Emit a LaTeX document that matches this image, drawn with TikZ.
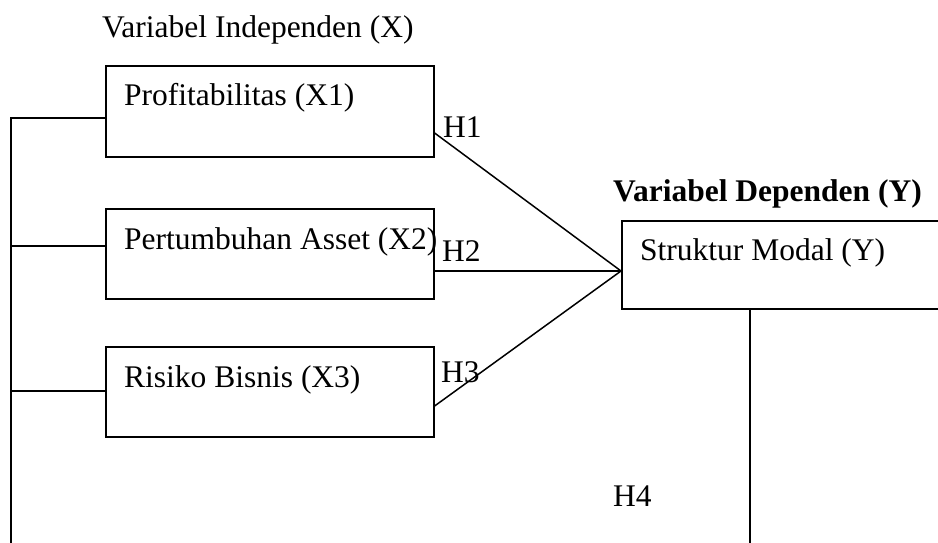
\documentclass[tikz,border=0pt]{standalone}
\usepackage{fontspec}
\setmainfont{Liberation Serif}
\usetikzlibrary{calc}
\begin{document}
\begin{tikzpicture}[x=1pt,y=-1pt,
  box/.style={draw, line width=1.6pt, inner sep=0pt, anchor=north west},
  txt/.style={anchor=base west, inner sep=0pt, font=\fontsize{31.5}{36}\selectfont},
  btxt/.style={txt, font=\fontsize{31.5}{36}\selectfont\bfseries},
  conn/.style={line width=1.5pt}]
\useasboundingbox (0,0) rectangle (938,543);

% boxes
\node[box, minimum width=328pt, minimum height=91pt] (x1) at (105,65) {};
\node[box, minimum width=328pt, minimum height=90pt] (x2) at (105,208) {};
\node[box, minimum width=328pt, minimum height=90pt] (x3) at (105,346) {};
\node[box, minimum width=330pt, minimum height=88pt] (y) at (621,220) {};

% texts
\node[txt] (tind) at (102,38) {Variabel Independen (X)};
\node[btxt] (tdep) at (613,201) {Variabel Dependen (Y)};
\node[txt] (t1) at (124,106) {Profitabilitas (X1)};
\node[txt] (t2) at (124,249) {Pertumbuhan Asset (X2)};
\node[txt] (t3) at (124,387) {Risiko Bisnis (X3)};
\node[txt] (ty) at (640,260) {Struktur Modal (Y)};
\node[txt] (h1) at (443,138) {H1};
\node[txt] (h2) at (442,261) {H2};
\node[txt] (h3) at (441,382) {H3};
\node[txt] (h4) at (613,506) {H4};

% coordinates
\coordinate (spine) at (11,546);
\coordinate (l1) at ($(x1.north west)+(0,53)$);
\coordinate (l2) at ($(x2.north west)+(0,38)$);
\coordinate (l3) at ($(x3.north west)+(0,45)$);
\coordinate (m) at ($(y.north west)+(0,51)$);
\coordinate (r1) at ($(x1.north east)+(0,68)$);
\coordinate (r2) at ($(x2.north east)+(0,63)$);
\coordinate (r3) at ($(x3.north east)+(0,60)$);
\coordinate (yb) at ($(y.south west)+(129,0)$);
\coordinate (ybot) at (750,546);

% connectors
\draw[conn] (l1) -| (spine);
\draw[conn] (l2) -- (l2 -| spine);
\draw[conn] (l3) -- (l3 -| spine);
\draw[conn] (r1) -- (m);
\draw[conn] (r2) -- (m);
\draw[conn] (r3) -- (m);
\draw[conn] (yb) -- (ybot);
\end{tikzpicture}
\end{document}
